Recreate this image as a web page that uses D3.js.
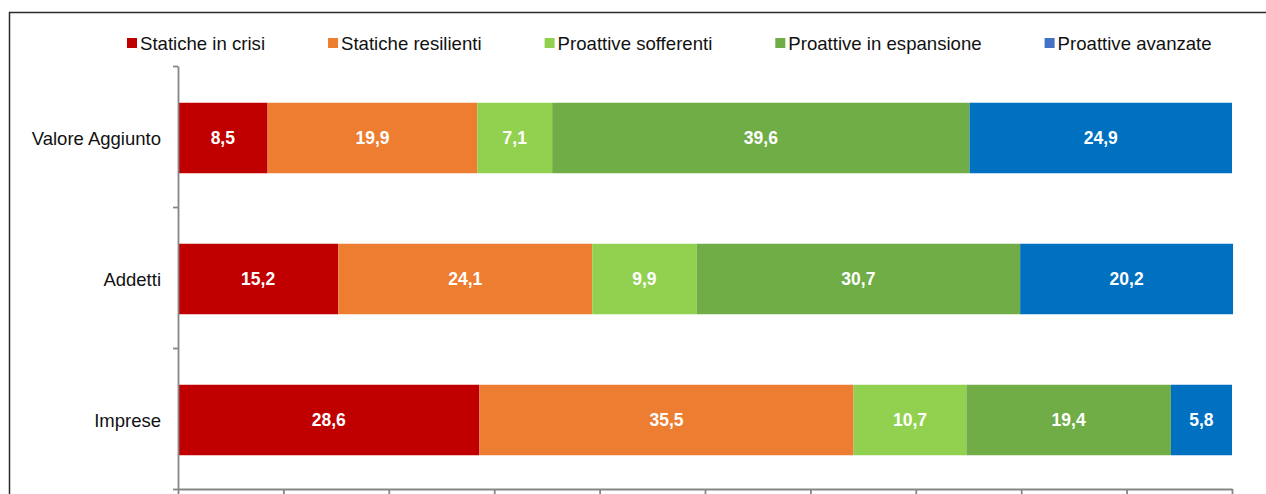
<!DOCTYPE html>
<html>
<head>
<meta charset="utf-8">
<script src="https://cdn.jsdelivr.net/npm/d3@7"></script>
<style>
  html, body { margin: 0; padding: 0; background: #fff; }
  svg { display: block; font-family: "Liberation Sans", Arial, sans-serif; }
</style>
</head>
<body>
<svg id="chart" width="1266" height="494"></svg>
<script>
// ---- DATA ----
const categories = ["Valore Aggiunto", "Addetti", "Imprese"];
const seriesNames = ["Statiche in crisi", "Statiche resilienti", "Proattive sofferenti", "Proattive in espansione", "Proattive avanzate"];
const staticheInCrisi       = [8.5, 15.2, 28.6];
const staticheResilienti    = [19.9, 24.1, 35.5];
const proattiveSofferenti   = [7.1, 9.9, 10.7];
const proattiveInEspansione = [39.6, 30.7, 19.4];
const proattiveAvanzate     = [24.9, 20.2, 5.8];
const xTicks = [0, 10, 20, 30, 40, 50, 60, 70, 80, 90, 100];

const seriesValues = [staticheInCrisi, staticheResilienti, proattiveSofferenti, proattiveInEspansione, proattiveAvanzate];
const barColors = ["#C00000", "#ED7D31", "#92D050", "#70AD47", "#0070C0"];
const legendColors = ["#C00000", "#ED7D31", "#92D050", "#70AD47", "#4472C4"];

// table for stacking
const table = categories.map((c, i) => {
  const row = { category: c };
  seriesNames.forEach((s, j) => row[s] = seriesValues[j][i]);
  return row;
});

const svg = d3.select("#chart");

// frame
svg.append("rect")
  .attr("x", 9.5).attr("y", 12.5)
  .attr("width", 1300).attr("height", 600)
  .attr("fill", "none").attr("stroke", "#2b2b2b").attr("stroke-width", 1.5);

const pLeft = 178, pRight = 1232, pTop = 66, pBottom = 489;

const x = d3.scaleLinear().domain([0, 100]).range([pLeft, pRight]);
const y = d3.scaleBand().domain(categories).range([pTop, pBottom]).paddingInner(0.5).paddingOuter(0.25);

const stack = d3.stack().keys(seriesNames);
const stacked = stack(table);

const g = svg.append("g");
stacked.forEach((layer, j) => {
  const lg = g.append("g").attr("fill", barColors[j]);
  lg.selectAll("rect").data(layer).join("rect")
    .attr("x", d => x(d[0]))
    .attr("y", d => y(d.data.category) + 1.5)
    .attr("width", d => x(d[1]) - x(d[0]))
    .attr("height", y.bandwidth());
  g.append("g").selectAll("text").data(layer).join("text")
    .attr("x", d => (x(d[0]) + x(d[1])) / 2)
    .attr("y", d => y(d.data.category) + 1.5 + y.bandwidth() / 2)
    .attr("dy", "0.36em")
    .attr("text-anchor", "middle")
    .attr("fill", "#fff")
    .attr("font-weight", "bold")
    .attr("font-size", "17.5px")
    .text(d => d3.format(".1f")(d[1] - d[0]).replace(".", ","));
});

// Y axis (category boundaries)
const yb = d3.scaleLinear().domain([0, categories.length]).range([pTop, pBottom]);
const yAxis = svg.append("g").attr("transform", `translate(${pLeft},0)`)
  .call(d3.axisLeft(yb).tickValues(d3.range(categories.length + 1)).tickFormat("").tickSize(5).tickSizeOuter(0));
yAxis.selectAll("path, line").attr("stroke", "#868686").attr("stroke-width", 1.8);

// category labels
svg.append("g").selectAll("text").data(categories).join("text")
  .attr("x", 161)
  .attr("y", d => y(d) + 1.5 + y.bandwidth() / 2)
  .attr("dy", "0.36em")
  .attr("text-anchor", "end")
  .attr("font-size", "18.5px")
  .attr("fill", "#111")
  .text(d => d);

// X axis
const xAxis = svg.append("g").attr("transform", `translate(0,${pBottom})`)
  .call(d3.axisBottom(x).tickValues(xTicks).tickFormat("").tickSize(6).tickSizeOuter(0));
xAxis.selectAll("path, line").attr("stroke", "#868686").attr("stroke-width", 1.8);

// legend
const legend = svg.append("g");
let lx = 127;
seriesNames.forEach((s, j) => {
  legend.append("rect")
    .attr("x", lx).attr("y", 38).attr("width", 10).attr("height", 10)
    .attr("fill", legendColors[j]);
  const t = legend.append("text")
    .attr("x", lx + 13).attr("y", 43).attr("dy", "0.36em")
    .attr("font-size", "18.6px").attr("fill", "#111")
    .text(s);
  lx += 13 + t.node().getComputedTextLength() + 63;
});
</script>
</body>
</html>
